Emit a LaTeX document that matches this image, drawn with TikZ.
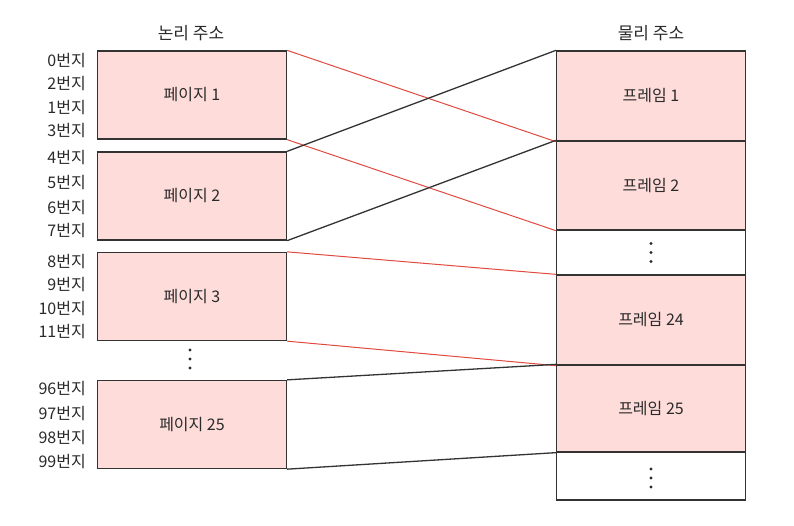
\documentclass[tikz,border=0pt]{standalone}
\usepackage{fontspec}
\setmainfont{Noto Sans CJK KR}
\definecolor{pagefill}{HTML}{FDDCDA}
\definecolor{linec}{HTML}{333333}
\definecolor{redc}{HTML}{E04A40}
\definecolor{txtc}{HTML}{2A2A2A}
\begin{document}
\begin{tikzpicture}[x=1pt,y=-1pt,
  box/.style={draw=linec, line width=1.3pt, inner sep=0pt, minimum width=189pt, text=txtc, font=\fontsize{16}{18}\selectfont},
  pagebox/.style={box, fill=pagefill, minimum height=88pt},
  addr/.style={anchor=east, inner sep=0pt, text=txtc, font=\fontsize{16}{18}\selectfont},
  title/.style={inner sep=0pt, text=txtc, font=\fontsize{17}{19}\selectfont},
  redline/.style={draw=redc, line width=1pt},
  blackline/.style={draw=linec, line width=1.3pt},
  dot/.style={fill=txtc}
]
\useasboundingbox (0,0) rectangle (794,525);
\fill[white] (0,0) rectangle (794,525);

% titles
\node[title] (tl) at (191,33) {논리 주소};
\node[title] (tr) at (651,33) {물리 주소};

% logical pages
\node[pagebox] (p1) at (192,95) {페이지 1};
\node[pagebox] (p2) at (192,196) {페이지 2};
\node[pagebox] (p3) at (192,296.5) {페이지 3};
\node[pagebox] (p25) at (192,424.5) {페이지 25};
\coordinate (ldots) at (190,359);
\foreach \dy in {-9,0,9} \fill[dot] (ldots) ++(0,\dy) circle (1.7pt);

% addresses
\node[addr] (a0) at (86,61) {0번지};
\node[addr] (a2) at (86,84) {2번지};
\node[addr] (a1) at (86,108) {1번지};
\node[addr] (a3) at (86,131) {3번지};
\node[addr] (a4) at (86,158) {4번지};
\node[addr] (a5) at (86,183) {5번지};
\node[addr] (a6) at (86,208) {6번지};
\node[addr] (a7) at (86,231) {7번지};
\node[addr] (a8) at (86,262) {8번지};
\node[addr] (a9) at (86,285) {9번지};
\node[addr] (a10) at (86,309) {10번지};
\node[addr] (a11) at (86,332) {11번지};
\node[addr] (a96) at (86,389) {96번지};
\node[addr] (a97) at (86,413) {97번지};
\node[addr] (a98) at (86,437) {98번지};
\node[addr] (a99) at (86,461) {99번지};

% physical frames
\node[box, fill=pagefill, minimum height=90pt] (f1) at (651,96) {프레임 1};
\node[box, fill=pagefill, minimum height=89pt] (f2) at (651,185.5) {프레임 2};
\node[box, fill=white, minimum height=45pt] (d1) at (651,252.5) {};
\node[box, fill=pagefill, minimum height=90pt] (f24) at (651,320) {프레임 24};
\node[box, fill=pagefill, minimum height=87pt] (f25) at (651,408.5) {프레임 25};
\node[box, fill=white, minimum height=48pt] (d2) at (651,476) {};
\foreach \dy in {-9,0,9} \fill[dot] (d1.center) ++(0,\dy) circle (1.7pt);
\foreach \dy in {-7,2,11} \fill[dot] (d2.center) ++(0,\dy) circle (1.7pt);

% connectors
\draw[redline] (p1.north east) -- (f1.south west);
\draw[redline] (p1.south east) -- (f2.south west);
\draw[blackline] (p2.north east) -- (f1.north west);
\draw[blackline] (p2.south east) -- (f2.north west);
\draw[redline] (p3.north east) -- (f24.north west);
\draw[redline] (p3.south east) -- (f24.south west);
\draw[blackline] (p25.north east) -- (f25.north west);
\draw[blackline] (p25.south east) -- (f25.south west);
\end{tikzpicture}
\end{document}
